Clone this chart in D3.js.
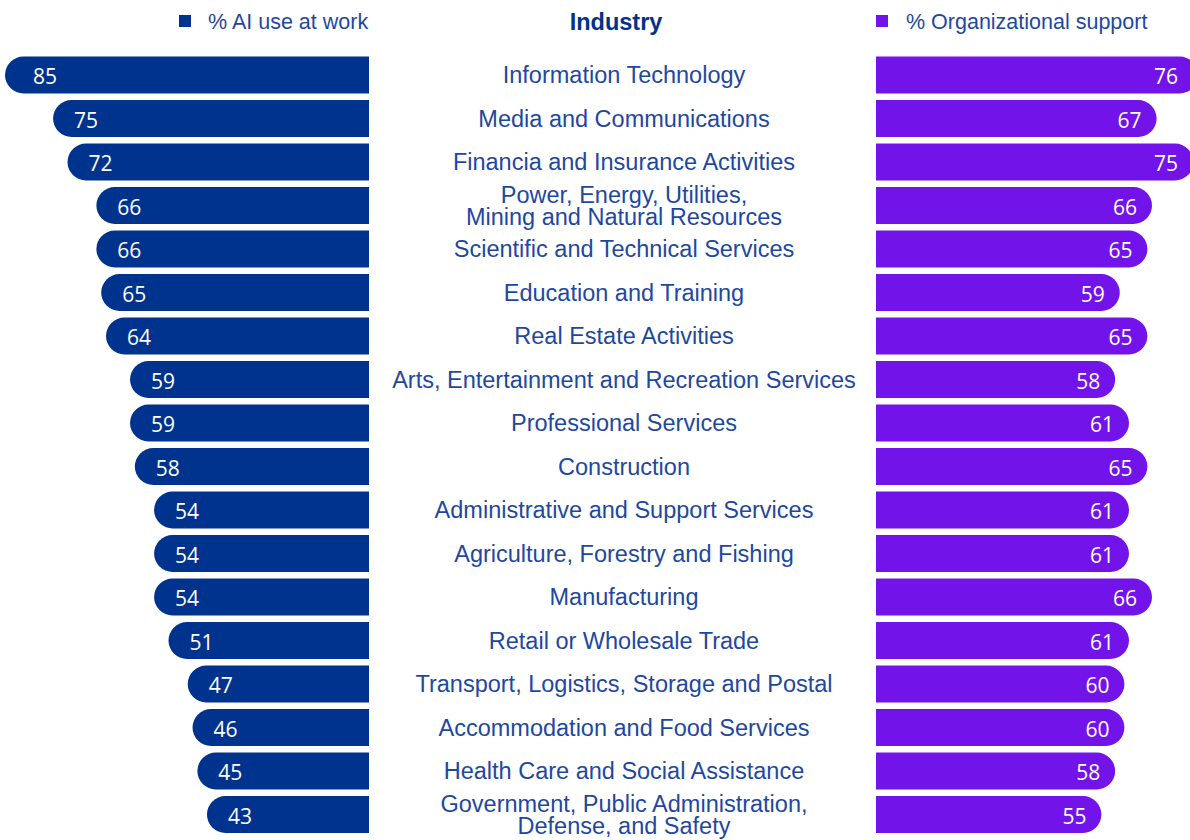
<!DOCTYPE html>
<html>
<head>
<meta charset="utf-8">
<script src="https://cdn.jsdelivr.net/npm/d3@7"></script>
<style>
  body { margin: 0; background: #fff; }
  svg { display: block; }
</style>
</head>
<body>
<div id="chart"></div>
<script>
(function() {
"use strict"

var width = 1190, height = 840;

// data
var industries = [
    ["Information Technology"],
    ["Media and Communications"],
    ["Financia and Insurance Activities"],
    ["Power, Energy, Utilities,", "Mining and Natural Resources"],
    ["Scientific and Technical Services"],
    ["Education and Training"],
    ["Real Estate Activities"],
    ["Arts, Entertainment and Recreation Services"],
    ["Professional Services"],
    ["Construction"],
    ["Administrative and Support Services"],
    ["Agriculture, Forestry and Fishing"],
    ["Manufacturing"],
    ["Retail or Wholesale Trade"],
    ["Transport, Logistics, Storage and Postal"],
    ["Accommodation and Food Services"],
    ["Health Care and Social Assistance"],
    ["Government, Public Administration,", "Defense, and Safety"]
];
var aiUse = [85, 75, 72, 66, 66, 65, 64, 59, 59, 58, 54, 54, 54, 51, 47, 46, 45, 43];
var orgSupport = [76, 67, 75, 66, 65, 59, 65, 58, 61, 65, 61, 61, 66, 61, 60, 60, 58, 55];
var legendLabels = ["% AI use at work", "Industry", "% Organizational support"];

var blue = "#00338D", purple = "#7213EA", labelColor = "#1E48A0";
var leftEdge = 369, rightEdge = 876, centerX = 624;

var svg = d3.select("#chart").append("svg")
    .attr("width", width)
    .attr("height", height);

var idx = d3.range(industries.length);

var y = d3.scaleBand()
    .domain(idx)
    .range([53.25, 836.25])
    .paddingInner(0.15)
    .paddingOuter(0.075);

// bars are not drawn from zero in the source, so the domain starts above it
var xLeft = d3.scaleLinear().domain([9.3, 85]).range([0, 364]);
var xRight = d3.scaleLinear().domain([6, 76]).range([0, 322]);

var bh = y.bandwidth(), r = bh / 2;

function leftPath(i) {
    var y0 = y(i), x0 = leftEdge - xLeft(aiUse[i]);
    return "M" + leftEdge + "," + y0 + "H" + (x0 + r) +
        "A" + r + "," + r + " 0 0 0 " + (x0 + r) + "," + (y0 + bh) +
        "H" + leftEdge + "Z";
}
function rightPath(i) {
    var y0 = y(i), x1 = rightEdge + xRight(orgSupport[i]);
    return "M" + rightEdge + "," + y0 + "H" + (x1 - r) +
        "A" + r + "," + r + " 0 0 1 " + (x1 - r) + "," + (y0 + bh) +
        "H" + rightEdge + "Z";
}

// left bars
svg.append("g").selectAll("path")
    .data(idx).join("path")
    .attr("d", leftPath)
    .attr("fill", blue);

svg.append("g").selectAll("text")
    .data(idx).join("text")
    .attr("x", function(i) { return leftEdge - xLeft(aiUse[i]) + (i === 0 ? 28 : 21); })
    .attr("y", function(i) { return y(i) + bh / 2; })
    .attr("dy", "0.45em")
    .style("font-family", "'Open Sans', sans-serif")
    .style("font-size", "21px")
    .attr("fill", "#fff")
    .text(function(i) { return aiUse[i]; });

// right bars
svg.append("g").selectAll("path")
    .data(idx).join("path")
    .attr("d", rightPath)
    .attr("fill", purple);

svg.append("g").selectAll("text")
    .data(idx).join("text")
    .attr("x", function(i) { return Math.min(rightEdge + xRight(orgSupport[i]) - 15, 1178); })
    .attr("y", function(i) { return y(i) + bh / 2; })
    .attr("dy", "0.45em")
    .attr("text-anchor", "end")
    .style("font-family", "'Open Sans', sans-serif")
    .style("font-size", "21px")
    .attr("fill", "#fff")
    .text(function(i) { return orgSupport[i]; });

// industry names
var names = svg.append("g").selectAll("text")
    .data(idx).join("text")
    .attr("text-anchor", "middle")
    .style("font-family", "'Liberation Sans', Arial, sans-serif")
    .style("font-size", "23.5px")
    .attr("fill", labelColor)
    .attr("y", function(i) { return y(i) + bh / 2; });

names.each(function(i) {
    var lines = industries[i];
    var t = d3.select(this);
    lines.forEach(function(l, k) {
        t.append("tspan")
            .attr("x", centerX)
            .attr("dy", k === 0 ? (0.36 - (lines.length - 1) * 0.45) + "em" : "0.9em")
            .text(l);
    });
});

// header / legend
var head = svg.append("g")
    .style("font-family", "'Liberation Sans', Arial, sans-serif")
    .style("font-size", "21.5px");

head.append("rect").attr("x", 179).attr("y", 15).attr("width", 12).attr("height", 12).attr("fill", blue);
head.append("text").attr("x", 208).attr("y", 21).attr("dy", "0.36em")
    .attr("fill", labelColor).text(legendLabels[0]);

head.append("text").attr("x", 616).attr("y", 22).attr("dy", "0.36em")
    .attr("text-anchor", "middle")
    .style("font-weight", "bold").style("font-size", "23.5px")
    .attr("fill", blue).text(legendLabels[1]);

head.append("rect").attr("x", 876).attr("y", 15).attr("width", 12).attr("height", 12).attr("fill", purple);
head.append("text").attr("x", 906).attr("y", 21).attr("dy", "0.36em")
    .attr("fill", labelColor).text(legendLabels[2]);
})();
</script>
</body>
</html>
